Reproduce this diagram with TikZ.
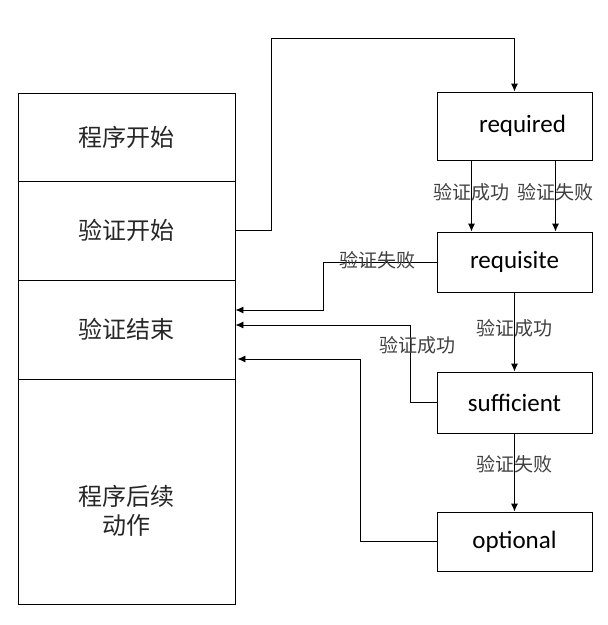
\documentclass[tikz,border=0pt]{standalone}
\usepackage{fontspec}
\setmainfont{Carlito}
\newfontfamily\cjk{Noto Sans CJK SC}
\usetikzlibrary{arrows.meta}

\begin{document}
\begin{tikzpicture}[x=1pt,y=-1pt,line width=0.9pt,
	stage/.style={shape=rectangle,draw=black,minimum width=217pt,inner sep=0pt,
		align=center,font=\cjk\fontsize{24}{29}\selectfont,text=black!85},
	module/.style={shape=rectangle,draw=black,minimum width=155pt,inner sep=0pt,
		font=\fontsize{25}{28}\selectfont},
	result/.style={font=\cjk\fontsize{19}{20}\selectfont,text=black!75},
	arr/.style={-{Latex[length=8pt,width=7pt]}}]
	
	\useasboundingbox (0,0) rectangle (608,625);
	
	\node[stage,minimum height=88pt]  (s1) at (126.5, 137)   {程序开始};
	\node[stage,minimum height=99pt]  (s2) at (126.5, 230.5) {验证开始};
	\node[stage,minimum height=99pt]  (s3) at (126.5, 329.5) {验证结束};
	\node[stage,minimum height=225pt] (s4) at (126.5, 491.5) {};
	\node[stage,draw=none]            (s4t) at (126.5, 511)  {程序后续\\动作};
	
	\node[module,minimum height=68pt] (required)   at (514.5, 126)   {\hspace{16pt}required};
	\node[module,minimum height=60pt] (requisite)  at (514.5, 262)   {requisite};
	\node[module,minimum height=61pt] (sufficient) at (514.5, 402.5) {sufficient};
	\node[module,minimum height=59pt] (optional)   at (514.5, 541.5) {optional};
	
	\coordinate (top)  at (271, 38);
	\coordinate (fail) at (323, 310);
	\coordinate (succ) at (410, 325);
	\coordinate (opt)  at (360, 359);
	
	\draw[arr] (s2.east) -| (top) -| (required.north);
	\draw[arr] ([xshift=-43pt]required.south) -- node[result,pos=0.45] {验证成功} ([xshift=-43pt]requisite.north);
	\draw[arr] ([xshift=41pt]required.south)  -- node[result,pos=0.45] {验证失败} ([xshift=41pt]requisite.north);
	\draw[arr] (requisite.west) -| (fail) -- (fail -| s3.east);
	\node[result] (l1) at (377, 260) {验证失败};
	\draw[arr] (requisite.south) -- node[result,pos=0.45] {验证成功} (sufficient.north);
	\draw[arr] (sufficient.west) -| (succ) -- (succ -| s3.east);
	\node[result] (l2) at (417, 345) {验证成功};
	\draw[arr] (sufficient.south) -- node[result,pos=0.4] {验证失败} (optional.north);
	\draw[arr] (optional.west) -| (opt) -- ([xshift=2pt]opt -| s3.east);
	
\end{tikzpicture}
\end{document}
